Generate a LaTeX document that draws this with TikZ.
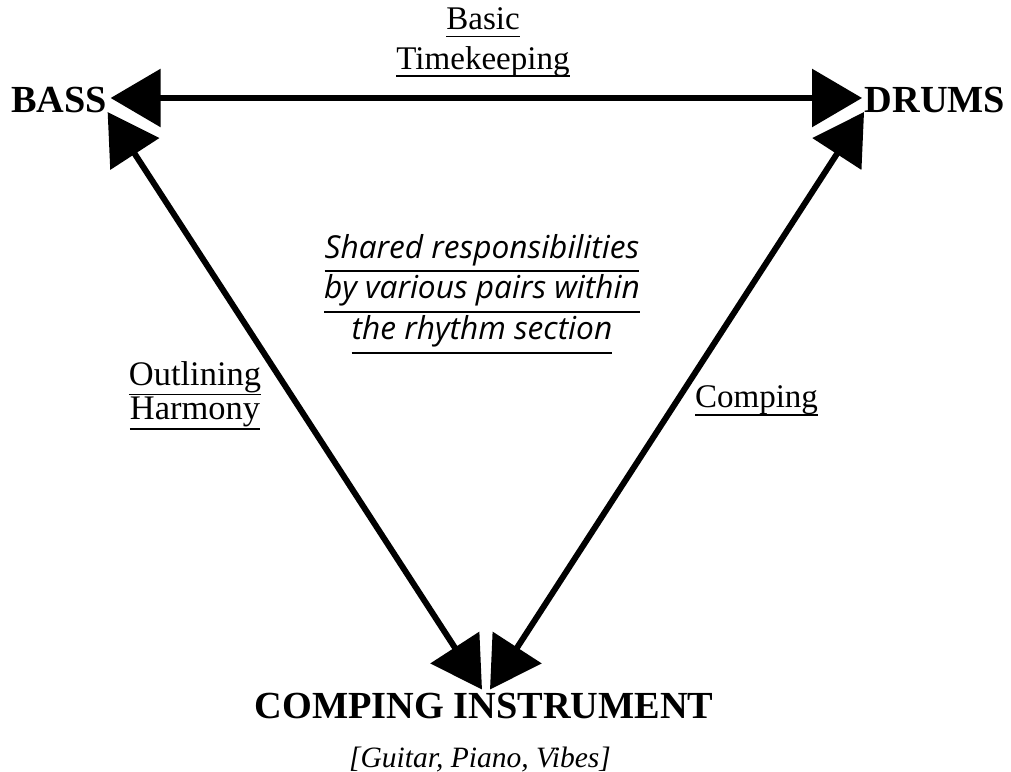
\documentclass[tikz,border=0pt]{standalone}
\usepackage{fontspec}
\setmainfont{Liberation Serif}
\newfontfamily\respfont{Open Sans}
\usetikzlibrary{arrows.meta,positioning}

% underline at a fixed depth below the baseline
\newcommand{\uln}[2][0.24em]{\setbox0=\hbox{#2}\rlap{\rule[-#1]{\wd0}{1.1pt}}\box0}

\begin{document}
\begin{tikzpicture}[
	inst/.style={font=\fontsize{21.8}{25}\selectfont\bfseries},
	lbl/.style={align=center, font=\fontsize{18.8}{22.7}\selectfont},
	link/.style={line width=3.4pt, {Triangle[length=1cm,width=1.14cm]}-{Triangle[length=1cm,width=1.14cm]}}
	]
	\useasboundingbox (0,0) rectangle (20.22,15.44);
	
	\node[inst, anchor=base] (bass)  at (1.18,13.18) {BASS};
	\node[inst, anchor=base] (drums) at (18.70,13.18) {DRUMS};
	\node[inst, anchor=base, font=\fontsize{21.8}{25}\selectfont\bfseries] (comp) at (9.68,1.07) {COMPING INSTRUMENT};
	\node[anchor=base, font=\fontsize{16.8}{20}\selectfont\itshape] (kinds) at (9.60,0.08) {[Guitar, Piano, Vibes]};
	
	\draw[link] ([shift={(-0.05,0.30)}]bass.base east) -- ([shift={(0.07,0.30)}]drums.base west);
	\draw[link] ([shift={(-0.11,0.02)}]bass.base east) -- ([shift={(-0.04,0.58)}]comp.base);
	\draw[link] ([shift={(0.11,0.02)}]drums.base west) -- ([shift={(0.12,0.58)}]comp.base);
	
	\node[lbl] (keep) at (9.66,14.59) {\uln{Basic}\\\uln{Timekeeping}};
	\node[lbl, font=\fontsize{19.6}{19.5}\selectfont] (harm) at (3.90,7.53) {\uln[0.3em]{Outlining}\\\uln[0.3em]{Harmony}};
	\node[lbl, anchor=base] (cmp) at (15.13,7.28) {\uln{Comping}};
	
	\node[align=center, font=\fontsize{18}{23.2}\selectfont\respfont\itshape] (resp) at (9.64,9.56)
		{\uln[0.45em]{Shared responsibilities}\\\uln[0.45em]{by various pairs within}\\\uln[0.45em]{the rhythm section}};
\end{tikzpicture}
\end{document}
